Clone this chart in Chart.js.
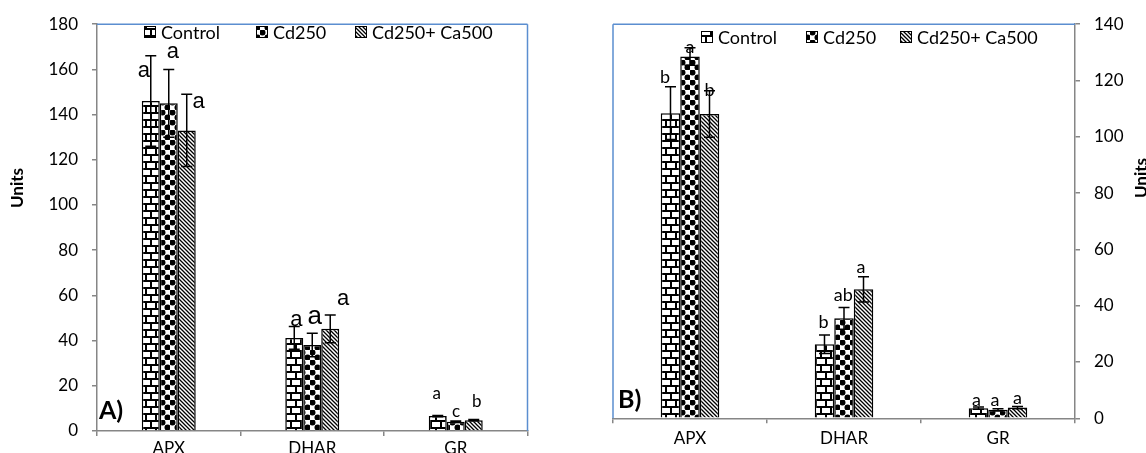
<!DOCTYPE html>
<html>
<head>
<meta charset="utf-8">
<script src="https://cdn.jsdelivr.net/npm/chart.js@4.4.1/dist/chart.umd.min.js"></script>
<style>
html,body{margin:0;padding:0;background:#fff;overflow:hidden;width:1146px;height:453px;}
canvas{position:absolute;top:0;}
#cA{left:0;}
#cB{left:580px;}
</style>
</head>
<body>
<canvas id="cA" width="560" height="470"></canvas>
<canvas id="cB" width="566" height="453"></canvas>
<script>
// ---------- DATA ----------
const categories = ['APX', 'DHAR', 'GR'];
const seriesNames = ['Control', 'Cd250', 'Cd250+ Ca500'];

// Panel A
const aControl = [146, 41.2, 6.6];
const aCd250   = [145, 38.1, 4.1];
const aCa500   = [133, 45.2, 4.8];
const aControlErr = [20, 5.0, 0.3];
const aCd250Err   = [15, 5.2, 0.3];
const aCa500Err   = [16, 6.1, 0.3];
const aControlSig = ['a', 'a', 'a'];
const aCd250Sig   = ['a', 'a', 'c'];
const aCa500Sig   = ['a', 'a', 'b'];
const aYMax = 180;

// Panel B
const bControl = [108.4, 26.3, 3.6];
const bCd250   = [128.5, 35.5, 3.0];
const bCa500   = [108.1, 45.8, 3.8];
const bControlErr = [9.4, 3.3, 0.4];
const bCd250Err   = [3.1, 3.9, 0.4];
const bCa500Err   = [8.3, 4.5, 0.4];
const bControlSig = ['b', 'b', 'a'];
const bCd250Sig   = ['a', 'ab', 'a'];
const bCa500Sig   = ['b', 'a', 'a'];
const bYMax = 140;

const yStep = 20;

// ---------- STYLE ----------
const AXIS = '#868686';
const FRAME = '#5b8ed0';
const SANS = 'Lato, "Open Sans", sans-serif';
const ARIAL = '"Liberation Sans", Arial, sans-serif';

function brickPattern() {
  const c = document.createElement('canvas'); c.width = 10; c.height = 14;
  const g = c.getContext('2d');
  g.fillStyle = '#fff'; g.fillRect(0, 0, 10, 14);
  g.fillStyle = '#000';
  g.fillRect(0, 0, 10, 2); g.fillRect(0, 7, 10, 2);
  g.fillRect(0, 0, 2, 7); g.fillRect(5, 7, 2, 7);
  return g.createPattern(c, 'repeat');
}
function dotPattern() {
  const c = document.createElement('canvas'); c.width = 10; c.height = 10;
  const g = c.getContext('2d');
  g.fillStyle = '#fff'; g.fillRect(0, 0, 10, 10);
  g.fillStyle = '#000';
  g.fillRect(0.5, 0.5, 4, 4); g.fillRect(5.5, 5.5, 4, 4);
  g.beginPath(); g.arc(2.5, 2.5, 3, 0, Math.PI * 2); g.fill();
  g.beginPath(); g.arc(7.5, 7.5, 3, 0, Math.PI * 2); g.fill();
  return g.createPattern(c, 'repeat');
}
function diagPattern() {
  const c = document.createElement('canvas'); c.width = 4; c.height = 4;
  const g = c.getContext('2d');
  g.fillStyle = '#fff'; g.fillRect(0, 0, 4, 4);
  g.strokeStyle = '#000'; g.lineWidth = 1.3;
  g.beginPath();
  g.moveTo(-1, -1); g.lineTo(5, 5);
  g.moveTo(-1, 3); g.lineTo(1, 5);
  g.moveTo(3, -1); g.lineTo(5, 1);
  g.stroke();
  return g.createPattern(c, 'repeat');
}
const patterns = [brickPattern(), dotPattern(), diagPattern()];

const decorPlugin = {
  id: 'decor',
  afterDraw(chart, args, o) {
    const ctx = chart.ctx, ca = chart.chartArea;
    ctx.save();
    // blue frame
    ctx.strokeStyle = FRAME; ctx.lineWidth = 1.5;
    ctx.beginPath();
    ctx.moveTo(ca.left, ca.top); ctx.lineTo(ca.right, ca.top);
    if (o.frameSide === 'right') { ctx.moveTo(ca.right, ca.top); ctx.lineTo(ca.right, ca.bottom); }
    else { ctx.moveTo(ca.left, ca.top); ctx.lineTo(ca.left, ca.bottom); }
    ctx.stroke();
    // legend
    ctx.font = '18px ' + SANS;
    ctx.textBaseline = 'middle'; ctx.textAlign = 'left';
    seriesNames.forEach((name, i) => {
      const x = o.legendX[i], y = o.legendY;
      ctx.fillStyle = patterns[i];
      ctx.fillRect(x, y - 6, 12, 12);
      ctx.strokeStyle = '#000'; ctx.lineWidth = 1;
      ctx.strokeRect(x + 0.5, y - 5.5, 11, 11);
      ctx.fillStyle = '#000';
      ctx.fillText(name, x + 17, y + 1);
    });
    // panel letter
    ctx.font = 'bold 25px ' + SANS;
    ctx.fillText(o.panel, o.panelX, o.panelY);
    // axis title
    ctx.font = 'bold 17px ' + SANS;
    ctx.translate(o.unitsX, o.unitsY);
    ctx.rotate(-Math.PI / 2);
    ctx.textAlign = 'center';
    ctx.fillText('Units', 0, 0);
    ctx.restore();
  }
};

const errPlugin = {
  id: 'errs',
  afterDatasetsDraw(chart, args, o) {
    const ctx = chart.ctx, ys = chart.scales.y;
    ctx.save();
    chart.data.datasets.forEach((ds, di) => {
      const meta = chart.getDatasetMeta(di);
      meta.data.forEach((el, i) => {
        const v = ds.data[i], e = ds.errs[i];
        const yt = ys.getPixelForValue(v + e), yb = ys.getPixelForValue(v - e);
        ctx.strokeStyle = '#000'; ctx.lineWidth = 1.5;
        ctx.beginPath();
        ctx.moveTo(el.x, yt); ctx.lineTo(el.x, yb);
        ctx.moveTo(el.x - 5.5, yt); ctx.lineTo(el.x + 5.5, yt);
        ctx.moveTo(el.x - 5.5, yb); ctx.lineTo(el.x + 5.5, yb);
        ctx.stroke();
      });
    });
    chart.data.datasets.forEach((ds, di) => {
      const meta = chart.getDatasetMeta(di);
      meta.data.forEach((el, i) => {
        const v = ds.data[i], e = ds.errs[i];
        const yt = ys.getPixelForValue(v + e);
        const st = o.labelStyle[di][i];
        ctx.font = st[2] + 'px ' + st[3];
        ctx.fillStyle = '#000';
        ctx.textAlign = 'center'; ctx.textBaseline = 'middle';
        ctx.fillText(ds.sig[i], el.x + st[0], yt + st[1]);
      });
    });
    ctx.restore();
  }
};

function makeChart(id, cfg) {
  const canvas = document.getElementById(id);
  const W = canvas.width, H = canvas.height;
  const axisCommon = {
    grid: { display: true, drawOnChartArea: false, drawTicks: true, tickLength: 5, color: AXIS, lineWidth: 1.5 },
    border: { display: true, color: AXIS, width: 1.5 }
  };
  const vals = cfg.values, errs = cfg.errs, sigs = cfg.sigs;
  return new Chart(canvas, {
    type: 'bar',
    data: {
      labels: categories,
      datasets: seriesNames.map((n, i) => ({
        label: n, data: vals[i], errs: errs[i], sig: sigs[i],
        backgroundColor: patterns[i], borderColor: '#000', borderWidth: 1.5,
        categoryPercentage: cfg.groupFrac, barPercentage: 1
      }))
    },
    options: {
      responsive: false, animation: false, devicePixelRatio: 1,
      layout: { padding: cfg.padding },
      scales: {
        x: Object.assign({}, axisCommon, {
          offset: true,
          grid: Object.assign({}, axisCommon.grid, { offset: true }),
          ticks: { color: '#000', font: { family: SANS, size: 17 }, padding: cfg.xPad },
          afterFit(s) { s.height = cfg.xHeight; }
        }),
        y: Object.assign({}, axisCommon, {
          position: cfg.yPos, min: 0, max: cfg.yMax,
          ticks: { stepSize: yStep, color: '#000', font: { family: SANS, size: 17 }, padding: 14 },
          afterFit(s) { s.width = cfg.yWidth; }
        })
      },
      plugins: {
        legend: { display: false }, tooltip: { enabled: false },
        decor: cfg.decor,
        errs: { labelStyle: cfg.labelStyle }
      }
    },
    plugins: [errPlugin, decorPlugin]
  });
}

makeChart('cA', {
  values: [aControl, aCd250, aCa500],
  errs: [aControlErr, aCd250Err, aCa500Err],
  sigs: [aControlSig, aCd250Sig, aCa500Sig],
  yMax: aYMax, yPos: 'left', groupFrac: 0.376,
  padding: { left: 0, top: 22, right: 32.5, bottom: 0 },
  yWidth: 97, xHeight: 39, xPad: 2,
  labelStyle: [
    [[-7, 15, 22, ARIAL], [2, -7, 22, ARIAL], [-1, -21.5, 17, SANS]],
    [[4, -17, 22, ARIAL], [2.5, -16, 26, ARIAL], [0.3, -9.5, 17, SANS]],
    [[12, 8, 22, ARIAL], [13, -16, 22, ARIAL], [3, -17.5, 17, SANS]]
  ],
  decor: { frameSide: 'right', legendX: [144, 256, 355], legendY: 32, panel: 'A)', panelX: 99, panelY: 411, unitsX: 18, unitsY: 188 }
});

makeChart('cB', {
  values: [bControl, bCd250, bCa500],
  errs: [bControlErr, bCd250Err, bCa500Err],
  sigs: [bControlSig, bCd250Sig, bCa500Sig],
  yMax: bYMax, yPos: 'right', groupFrac: 0.38,
  padding: { left: 33, top: 24, right: 0, bottom: 0 },
  yWidth: 71, xHeight: 34.7, xPad: 5,
  labelStyle: [
    [[-5.5, -10, 18, SANS], [-1, -13, 18, SANS], [-2, -7, 18, SANS]],
    [[0, -1, 18, SANS], [-0.7, -12.4, 18, SANS], [-3, -8.6, 18, SANS]],
    [[0, 0, 18, SANS], [-2.5, -10, 18, SANS], [0, -8, 18, SANS]]
  ],
  decor: { frameSide: 'left', legendX: [121, 226, 320], legendY: 37, panel: 'B)', panelX: 38, panelY: 400, unitsX: 562, unitsY: 178 }
});
</script>
</body>
</html>
